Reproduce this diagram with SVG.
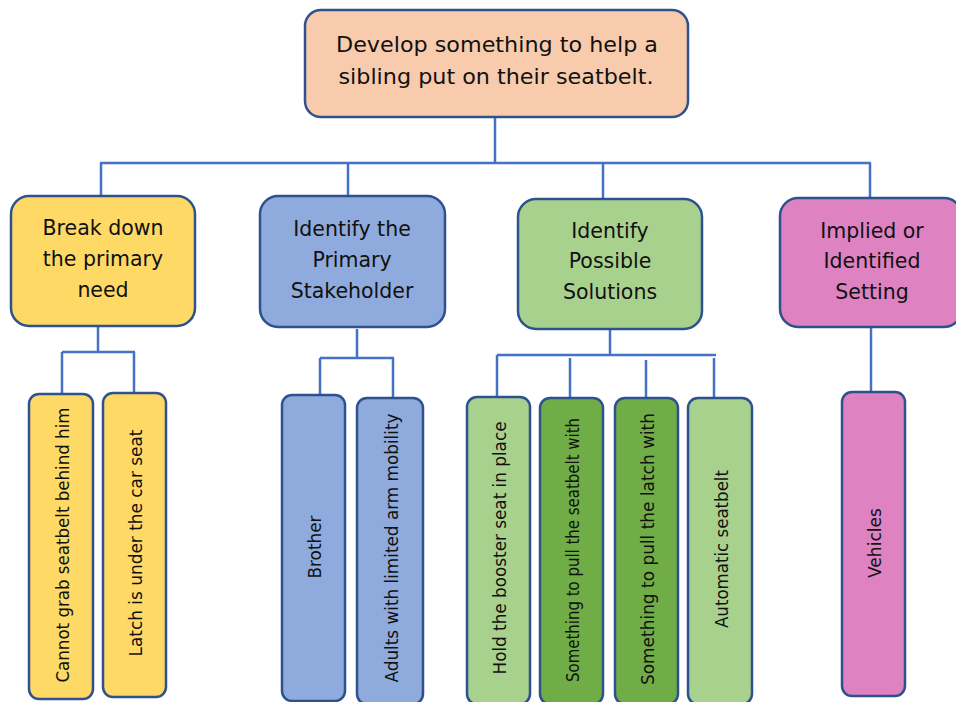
<svg xmlns="http://www.w3.org/2000/svg" width="956" height="702" viewBox="0 0 956 702">
<style>
.box{stroke:#2F528F;stroke-width:2.5}
.t{font-family:"DejaVu Sans",Verdana,sans-serif;fill:#111;text-anchor:middle}
.h{font-size:22px}
.l1{font-size:20.5px}
.v{font-size:17px;dominant-baseline:central}
.c{fill:none;stroke:#4472C4;stroke-width:2.5}
</style>
<rect width="956" height="702" fill="#fff"/>
<g id="connectors" class="c">
<path d="M495 117V163M100 163H871M101 163V196M348 163V196M603 163V199M870 163V198"/>
<path d="M98 326V352M62 352H135M62 352V394M134 352V393"/>
<path d="M357 329V358M320 358H394M320 358V395M393 358V398"/>
<path d="M610 329V355M497 355H716M497 355V397M570 358V398M646 360V398M714 358V398"/>
<path d="M871 327V392"/>
</g>
<g id="root"><rect class="box" x="305" y="10" width="383" height="107" rx="16" fill="#F8CBAD"/>
<text class="t h" x="497" y="52" textLength="322" lengthAdjust="spacingAndGlyphs">Develop something to help a</text>
<text class="t h" x="496" y="84" textLength="315" lengthAdjust="spacingAndGlyphs">sibling put on their seatbelt.</text></g>
<g id="need"><rect class="box" x="11" y="196" width="184" height="130" rx="18" fill="#FFD966"/>
<text class="t l1" x="103" y="235">Break down</text><text class="t l1" x="103" y="266">the primary</text><text class="t l1" x="103" y="297">need</text></g>
<g id="stakeholder"><rect class="box" x="260" y="196" width="185" height="131" rx="18" fill="#8FAADC"/>
<text class="t l1" x="352" y="236">Identify the</text><text class="t l1" x="352" y="267">Primary</text><text class="t l1" x="352" y="298">Stakeholder</text></g>
<g id="solutions"><rect class="box" x="518" y="199" width="184" height="130" rx="18" fill="#A9D18E"/>
<text class="t l1" x="610" y="238">Identify</text><text class="t l1" x="610" y="268">Possible</text><text class="t l1" x="610" y="299">Solutions</text></g>
<g id="setting"><rect class="box" x="780" y="198" width="182" height="129" rx="18" fill="#DE82C2"/>
<text class="t l1" x="872" y="238">Implied or</text><text class="t l1" x="872" y="268">Identified</text><text class="t l1" x="872" y="299">Setting</text></g>
<g id="n1"><rect class="box" x="29" y="394" width="64" height="305" rx="10" fill="#FFD966"/>
<text class="t v" transform="translate(63 545) rotate(-90)" textLength="275" lengthAdjust="spacingAndGlyphs">Cannot grab seatbelt behind him</text></g>
<g id="n2"><rect class="box" x="103" y="393" width="63" height="304" rx="10" fill="#FFD966"/>
<text class="t v" transform="translate(136 543) rotate(-90)" textLength="227" lengthAdjust="spacingAndGlyphs">Latch is under the car seat</text></g>
<g id="n3"><rect class="box" x="282" y="395" width="63" height="306" rx="10" fill="#8FAADC"/>
<text class="t v" transform="translate(315 547) rotate(-90)" textLength="63" lengthAdjust="spacingAndGlyphs">Brother</text></g>
<g id="n4"><rect class="box" x="357" y="398" width="66" height="306" rx="10" fill="#8FAADC"/>
<text class="t v" transform="translate(392 548) rotate(-90)" textLength="269" lengthAdjust="spacingAndGlyphs">Adults with limited arm mobility</text></g>
<g id="n5"><rect class="box" x="467" y="397" width="63" height="307" rx="10" fill="#A9D18E"/>
<text class="t v" transform="translate(500 548) rotate(-90)" textLength="253" lengthAdjust="spacingAndGlyphs">Hold the booster seat in place</text></g>
<g id="n6"><rect class="box" x="540" y="398" width="63" height="306" rx="10" fill="#70AD47"/>
<text class="t v" transform="translate(573 550) rotate(-90)" textLength="264" lengthAdjust="spacingAndGlyphs">Something to pull the seatbelt with</text></g>
<g id="n7"><rect class="box" x="615" y="398" width="63" height="306" rx="10" fill="#70AD47"/>
<text class="t v" transform="translate(648 549) rotate(-90)" textLength="272" lengthAdjust="spacingAndGlyphs">Something to pull the latch with</text></g>
<g id="n8"><rect class="box" x="688" y="398" width="64" height="306" rx="10" fill="#A9D18E"/>
<text class="t v" transform="translate(722 549) rotate(-90)" textLength="158" lengthAdjust="spacingAndGlyphs">Automatic seatbelt</text></g>
<g id="n9"><rect class="box" x="842" y="392" width="63" height="304" rx="10" fill="#DE82C2"/>
<text class="t v" transform="translate(875 543) rotate(-90)" textLength="70" lengthAdjust="spacingAndGlyphs">Vehicles</text></g>
</svg>
